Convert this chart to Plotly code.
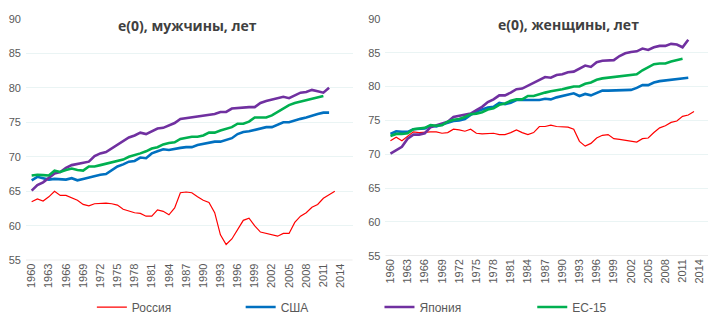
import plotly.graph_objects as go

years = list(range(1960, 2014))  # 1960..2013

# Men, e(0)
russia_m = [63.5, 63.9, 63.6, 64.2, 65.0, 64.4, 64.4, 64.0, 63.7, 63.1,
            62.9, 63.2, 63.3, 63.3, 63.2, 63.0, 62.4, 62.1, 61.9, 61.8,
            61.4, 61.4, 62.3, 62.1, 61.6, 62.6, 64.8, 64.9, 64.8, 64.2,
            63.7, 63.4, 61.9, 58.7, 57.3, 58.1, 59.5, 60.8, 61.1, 60.0,
            59.1, 58.9, 58.6, 58.5, 58.9, 58.9, 60.5, 61.4, 61.9, 62.7,
            63.1, 64.0, 64.5, 65.0]
usa_m = [66.6, 67.1, 66.9, 66.7, 66.8, 66.8, 66.7, 66.9, 66.6, 66.8,
         67.0, 67.3, 67.4, 67.5, 68.0, 68.6, 68.9, 69.3, 69.4, 69.9,
         69.8, 70.5, 70.8, 71.1, 71.0, 71.2, 71.3, 71.4, 71.4, 71.7,
         71.9, 72.0, 72.2, 72.2, 72.4, 72.7, 73.3, 73.6, 73.7, 73.9,
         74.2, 74.3, 74.3, 74.6, 75.0, 75.0, 75.3, 75.5, 75.7, 76.0,
         76.2, 76.4, 76.4, None]
japan_m = [65.1, 65.9, 66.3, 67.0, 67.6, 67.8, 68.4, 68.8, 69.0, 69.1,
           69.3, 70.1, 70.5, 70.7, 71.2, 71.7, 72.3, 72.8, 73.1, 73.5,
           73.3, 73.7, 74.1, 74.2, 74.6, 74.9, 75.5, 75.6, 75.8, 75.8,
           76.0, 76.0, 76.2, 76.5, 76.5, 77.0, 77.1, 77.2, 77.2, 77.2,
           77.8, 78.1, 78.3, 78.4, 78.7, 78.5, 78.9, 79.3, 79.4, 79.7,
           79.5, 79.3, 80.0, None]
eu15_m = [67.3, 67.4, 67.35, 67.3, 68.0, 67.8, 68.1, 68.3, 68.1, 68.0,
          68.6, 68.6, 68.8, 69.0, 69.2, 69.3, 69.6, 70.0, 70.2, 70.5,
          70.8, 71.2, 71.4, 71.8, 72.0, 72.1, 72.6, 72.8, 72.9, 72.9,
          73.1, 73.5, 73.5, 73.8, 74.0, 74.3, 74.8, 74.8, 75.1, 75.7,
          75.7, 75.7, 76.0, 76.5, 77.1, 77.5, 77.8, 78.0, 78.2, 78.4,
          78.6, 78.8, None, None]

# Women, e(0)
russia_f = [72.0, 72.5, 72.0, 72.6, 73.3, 73.2, 73.3, 73.3, 73.3, 73.1,
            73.2, 73.7, 73.6, 73.4, 73.7, 73.1, 73.0, 73.1, 73.1, 72.9,
            72.9, 73.2, 73.6, 73.2, 72.9, 73.2, 74.1, 74.1, 74.3, 74.1,
            74.1, 74.0, 73.7, 71.9, 71.2, 71.6, 72.4, 72.8, 72.9, 72.3,
            72.2, 72.1, 71.9, 71.8, 72.3, 72.4, 73.2, 73.9, 74.2, 74.7,
            74.9, 75.6, 75.8, 76.3]
usa_f = [73.0, 73.4, 73.3, 73.3, 73.7, 73.8, 73.8, 74.2, 74.1, 74.4,
         74.7, 74.9, 75.0, 75.2, 75.8, 76.3, 76.6, 76.9, 77.0, 77.6,
         77.4, 77.6, 78.0, 78.0, 78.0, 78.0, 78.0, 78.2, 78.1, 78.4,
         78.6, 78.7, 79.0, 78.6, 78.9, 78.7, 79.0, 79.4, 79.4, 79.4,
         79.4, 79.5, 79.5, 79.8, 80.2, 80.2, 80.6, 80.8, 80.9, 81.1,
         81.2, 81.2, 81.3, None]
japan_f = [70.1, 70.6, 71.1, 72.3, 72.9, 72.9, 73.1, 74.0, 74.3, 74.5,
           74.8, 75.5, 75.7, 75.9, 76.0, 76.5, 77.0, 77.7, 78.1, 78.7,
           78.7, 79.1, 79.6, 79.7, 80.1, 80.5, 81.0, 81.4, 81.3, 81.7,
           81.8, 82.1, 82.2, 82.6, 83.1, 82.9, 83.6, 83.8, 83.8, 83.9,
           84.5, 84.9, 85.1, 85.2, 85.6, 85.4, 85.8, 86.0, 86.0, 86.3,
           86.2, 85.8, 86.9, None]
eu15_f = [72.7, 73.0, 73.0, 73.1, 73.7, 73.8, 73.9, 74.3, 74.2, 74.3,
          74.8, 75.1, 75.2, 75.5, 75.9, 76.0, 76.2, 76.6, 76.8, 77.3,
          77.5, 77.9, 78.1, 78.1, 78.6, 78.6, 78.9, 79.1, 79.3, 79.4,
          79.6, 79.8, 80.0, 80.0, 80.4, 80.6, 81.0, 81.2, 81.3, 81.3,
          81.5, 81.6, 81.6, 81.8, 82.4, 82.9, 83.3, 83.4, 83.4, 83.7,
          83.9, 84.1, None, None]

tick_years = list(range(1960, 2015, 3))
y_ticks = [55, 60, 65, 70, 75, 80, 85, 90]
series_names = ["Россия", "США", "Япония", "ЕС-15"]
colors = ["#ff0000", "#0070c0", "#7030a0", "#00b050"]
widths = [1.2, 2.6, 2.6, 2.6]

W, H = 720, 328
def px(x):
    return x / W
def py(y):
    return 1 - y / H

fig = go.Figure()
men = [russia_m, usa_m, japan_m, eu15_m]
women = [russia_f, usa_f, japan_f, eu15_f]
legend_ids = ["legend", "legend2", "legend3", "legend4"]
for i, name in enumerate(series_names):
    fig.add_trace(go.Scatter(x=years, y=men[i], mode="lines", name=name,
                             line=dict(color=colors[i], width=widths[i]),
                             xaxis="x", yaxis="y", showlegend=True,
                             legend=legend_ids[i], connectgaps=False))
for i, name in enumerate(series_names):
    fig.add_trace(go.Scatter(x=years, y=women[i], mode="lines", name=name,
                             line=dict(color=colors[i], width=widths[i]),
                             xaxis="x2", yaxis="y2", showlegend=False,
                             connectgaps=False))

tickfont = dict(family="Liberation Sans, Arial", size=11, color="#595959")
grid = "#eaf4f4"

common_x = dict(tickmode="array", tickvals=tick_years,
                ticktext=[str(t) for t in tick_years], tickangle=-90,
                tickfont=tickfont, showgrid=False, zeroline=False,
                showline=False, ticks="", fixedrange=True)
common_y = dict(tickmode="array", tickvals=y_ticks, range=[55, 90],
                tickfont=tickfont, showgrid=True, gridcolor=grid,
                gridwidth=1, zeroline=False, showline=False, ticks="",
                ticklabelstandoff=4)

fig.update_layout(
    width=W, height=H, margin=dict(l=0, r=0, t=0, b=0),
    paper_bgcolor="white", plot_bgcolor="white",
    xaxis=dict(common_x, domain=[px(25), px(352)],
               range=[1960 - 5.7 / 5.73, 2014 + 12 / 5.73], anchor="y"),
    yaxis=dict(common_y, domain=[py(264), py(13.3)], anchor="x"),
    xaxis2=dict(common_x, domain=[px(385), px(708)],
                range=[1960 - 5 / 5.74, 2014 + 8.3 / 5.74], anchor="y2"),
    yaxis2=dict(common_y, domain=[py(259.3), py(13.3)], anchor="x2"),
    showlegend=True,
)

for xa, ya in (("x", "y"), ("x2", "y2")):
    fig.add_shape(type="line", xref=xa + " domain", yref=ya, x0=0, x1=1,
                  y0=55, y1=55, line=dict(color="#d9d9d9", width=1.3),
                  layer="below")

legend_pos = [96, 245, 384, 537]
legfont = dict(family="Liberation Sans, Arial", size=12, color="#595959")
for lid, xp in zip(legend_ids, legend_pos):
    fig.update_layout({lid: dict(x=px(xp - 5), y=py(312.5), xanchor="left",
                                 yanchor="middle", orientation="h",
                                 font=legfont, bgcolor="rgba(0,0,0,0)",
                                 borderwidth=0, tracegroupgap=0)})

titlefont = dict(family="Open Sans", size=14, color="#404040")
fig.add_annotation(text="<b>e(0), мужчины, лет</b>", x=px(187), y=py(20),
                   xref="paper", yref="paper", showarrow=False,
                   font=titlefont, xanchor="center", yanchor="middle")
fig.add_annotation(text="<b>e(0), женщины, лет</b>", x=px(568.5), y=py(19),
                   xref="paper", yref="paper", showarrow=False,
                   font=titlefont, xanchor="center", yanchor="middle")

fig.write_html("out.html", config={"displayModeBar": False})
